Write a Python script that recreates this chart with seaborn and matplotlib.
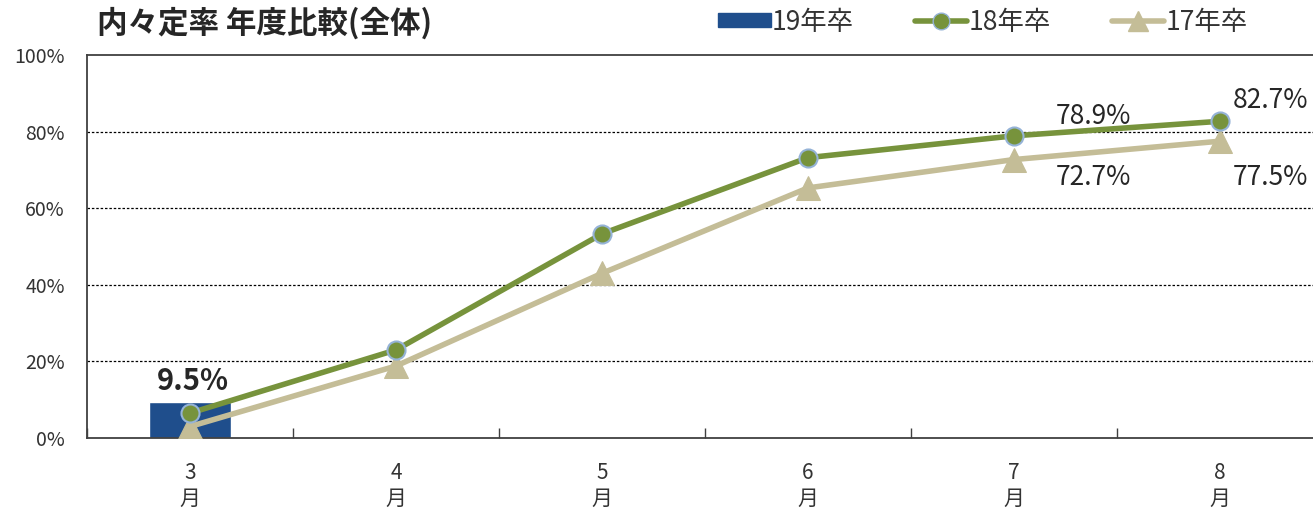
import numpy as np
import matplotlib.pyplot as plt
import seaborn as sns
from matplotlib.lines import Line2D
from matplotlib.patches import Patch
from matplotlib.ticker import FixedLocator, PercentFormatter

months = ["3\n月", "4\n月", "5\n月", "6\n月", "7\n月", "8\n月"]
y19_months = ["3\n月"]
y19 = [9.5]
y18 = [6.5, 23.0, 53.3, 73.2, 78.9, 82.7]
y17 = [3.0, 18.8, 43.0, 65.3, 72.7, 77.5]

sns.set_theme(style="white")
plt.rcParams["font.family"] = ["Noto Sans CJK JP", "DejaVu Sans"]

blue = "#1F4E8C"
green = "#77933C"
tan = "#C4BD97"
edge = "#95B3D7"

fig = plt.figure(figsize=(13.13, 5.12), dpi=100)
ax = fig.add_axes([87 / 1313, 74 / 512, 1236 / 1313, 383 / 512])

sns.barplot(x=y19_months, y=y19, order=months, width=0.4, color=blue,
            saturation=1, ax=ax, zorder=2)
x = np.arange(len(months))
sns.lineplot(x=x, y=y17, color=tan, lw=4, marker="^", ms=17,
             markeredgecolor=tan, ax=ax, zorder=3)
sns.lineplot(x=x, y=y18, color=green, lw=4, marker="o", ms=13,
             markeredgecolor=edge, markeredgewidth=1.5, ax=ax, zorder=4)

ax.set_xlim(-0.5, len(months) - 0.5)
ax.set_ylim(0, 100)
ax.set_xlabel("")
ax.set_ylabel("")

# ticks sit on the category boundaries, labels in the middle
ax.xaxis.set_major_locator(FixedLocator(np.arange(len(months) + 1) - 0.5))
ax.xaxis.set_minor_locator(FixedLocator(x))
ax.set_xticklabels([], minor=False)
ax.set_xticklabels(months, minor=True)
ax.tick_params(axis="x", which="major", direction="in", length=7,
               width=1, color="#404040", bottom=True)
ax.tick_params(axis="x", which="minor", length=0, pad=17,
               labelsize=15, labelcolor="#333333")
for lbl in ax.get_xticklabels(minor=True):
    lbl.set_linespacing(1.25)

ax.set_yticks([0, 20, 40, 60, 80, 100])
ax.yaxis.set_major_formatter(PercentFormatter(decimals=0))
ax.tick_params(axis="y", length=0, pad=16, labelsize=14, labelcolor="#333333")

for y in [20, 40, 60, 80]:
    ax.axhline(y, color="black", lw=0.9, ls=(0, (2, 1.5)), zorder=1)
for side in ["left", "bottom", "top"]:
    ax.spines[side].set_color("#404040")
    ax.spines[side].set_linewidth(1.3)
ax.spines["right"].set_visible(False)

ax.annotate(f"{y19[0]}%", (0, y19[0]), xytext=(2, 15), textcoords="offset points",
            ha="center", va="center", fontsize=21, fontweight="bold")
ax.annotate(f"{y18[4]}%", (4, y18[4]), xytext=(57, 14), textcoords="offset points",
            ha="center", va="center", fontsize=19)
ax.annotate(f"{y17[4]}%", (4, y17[4]), xytext=(57, -13), textcoords="offset points",
            ha="center", va="center", fontsize=19)
ax.annotate(f"{y18[5]}%", (5, y18[5]), xytext=(36, 15), textcoords="offset points",
            ha="center", va="center", fontsize=19)
ax.annotate(f"{y17[5]}%", (5, y17[5]), xytext=(36, -26), textcoords="offset points",
            ha="center", va="center", fontsize=19)

fig.text(97 / 1313, 1 - 23 / 512, "内々定率 年度比較(全体)", fontsize=22,
         fontweight="bold", va="center", ha="left")

handles = [
    Patch(facecolor=blue, edgecolor=blue),
    Line2D([], [], color=green, lw=4, marker="o", ms=12,
           markerfacecolor=green, markeredgecolor=edge),
    Line2D([], [], color=tan, lw=4, marker="^", ms=14,
           markerfacecolor=tan, markeredgecolor=tan),
]
fig.legend(handles, ["19年卒", "18年卒", "17年卒"], ncol=3, frameon=False,
           loc="center left", bbox_to_anchor=(694 / 1313, 1 - 22 / 512),
           fontsize=19, handlelength=2.0, handleheight=0.45, handletextpad=0.05,
           columnspacing=2.3, labelcolor="#333333")

fig.savefig("out.png", dpi=100)
